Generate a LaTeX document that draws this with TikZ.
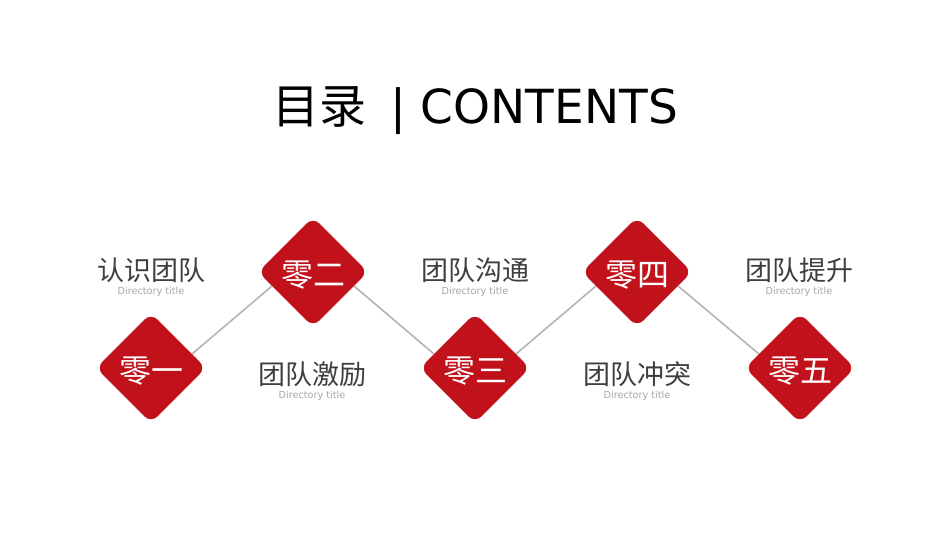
\documentclass[tikz,border=0pt]{standalone}
\usepackage{fontspec}
\setmainfont{DejaVu Sans}
\newfontfamily\cjk{Noto Sans CJK SC}
\usetikzlibrary{shapes.geometric,calc}
\pgfdeclarelayer{bg}
\pgfsetlayers{bg,main}
\definecolor{dred}{HTML}{C1121C}
\definecolor{labgray}{HTML}{3F3F3F}
\definecolor{subgray}{HTML}{A6A6A6}
\definecolor{linegray}{HTML}{B3B3B3}
\tikzset{
  dia/.style={diamond, aspect=1, minimum size=110pt, inner sep=0pt, fill=dred, rounded corners=9pt},
  diatext/.style={text=white, font=\cjk\fontsize{32}{32}\selectfont, inner sep=0pt},
  lab/.style={text=labgray, font=\cjk\fontsize{27}{27}\selectfont, inner sep=0pt},
  sub/.style={text=subgray, font=\fontsize{9.7}{10}\selectfont, inner sep=0pt},
  conn/.style={draw=linegray, line width=1.6pt}
}
\begin{document}
\begin{tikzpicture}[x=1pt,y=-1pt]
\useasboundingbox (0,0) rectangle (950,535);
% title
\node[anchor=base, inner sep=0pt, font=\fontsize{47}{47}\selectfont] (title) at (475,123) {{\cjk 目录}\ \hspace{9pt}| CONTENTS};
% diamonds
\node[dia] (d1) at (151,368) {};
\node[dia] (d2) at (313,272) {};
\node[dia] (d3) at (475,368) {};
\node[dia] (d4) at (637,272) {};
\node[dia] (d5) at (800,368) {};
% connectors
\begin{pgfonlayer}{bg}
\draw[conn] ($(d1.center)+(41,-14)$) -- ($(d2.center)+(-41,14)$);
\draw[conn] ($(d2.center)+(41,14)$) -- ($(d3.center)+(-41,-14)$);
\draw[conn] ($(d3.center)+(41,-14)$) -- ($(d4.center)+(-41,14)$);
\draw[conn] ($(d4.center)+(41,14)$) -- ($(d5.center)+(-41,-14)$);
\end{pgfonlayer}
\node[diatext] (t1) at (151,371) {零一};
\node[diatext] (t2) at (313,275) {零二};
\node[diatext] (t3) at (475,371) {零三};
\node[diatext] (t4) at (637,275) {零四};
\node[diatext] (t5) at (800,371) {零五};
% labels
\node[lab] (l1) at (151,270.5) {认识团队};
\node[sub] (s1) at (151,292) {Directory title};
\node[lab] (l2) at (312,374.5) {团队激励};
\node[sub] (s2) at (312,395.5) {Directory title};
\node[lab] (l3) at (475,270.5) {团队沟通};
\node[sub] (s3) at (475,292) {Directory title};
\node[lab] (l4) at (637,374.5) {团队冲突};
\node[sub] (s4) at (637,395.5) {Directory title};
\node[lab] (l5) at (799,270.5) {团队提升};
\node[sub] (s5) at (799,292) {Directory title};
\end{tikzpicture}
\end{document}
